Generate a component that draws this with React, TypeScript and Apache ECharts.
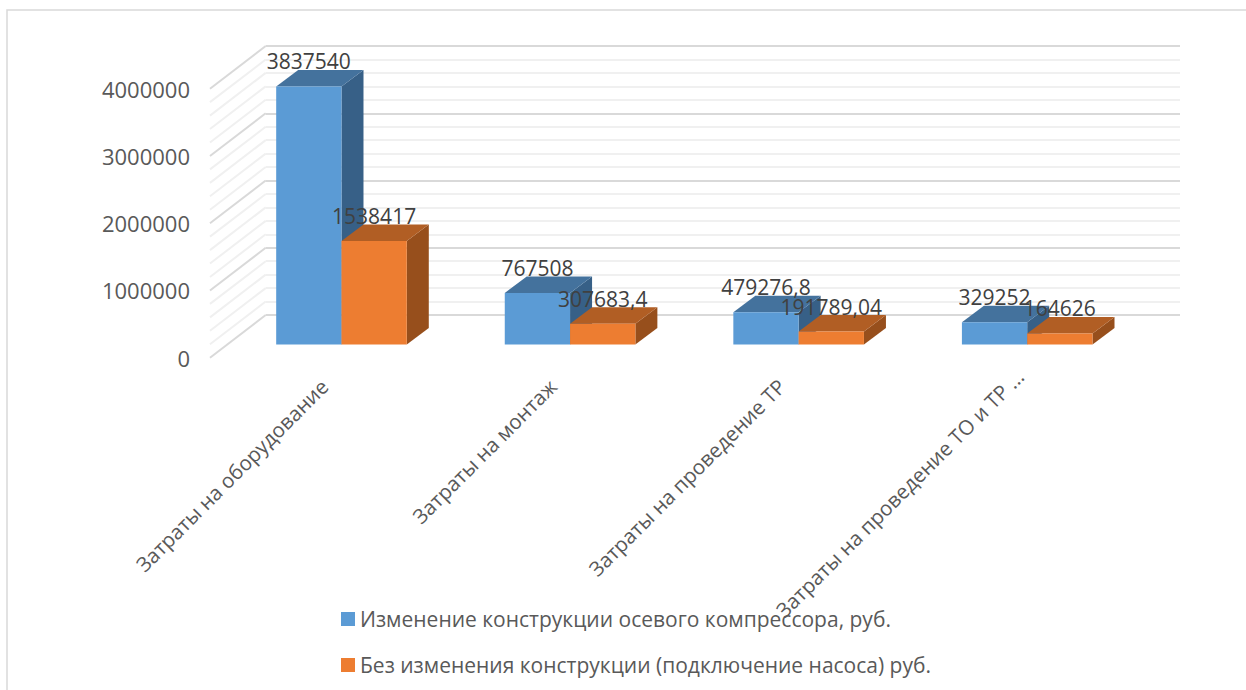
import React, { useEffect, useRef } from "react";
import * as echarts from "echarts";

const categories = [
  "Затраты на оборудование",
  "Затраты на монтаж",
  "Затраты на проведение ТР",
  "Затраты на проведение ТО и ТР ...",
];
const seriesNames = [
  "Изменение конструкции осевого компрессора, руб.",
  "Без изменения конструкции (подключение насоса) руб.",
];
const redesignCosts = [3837540, 767508, 479276.8, 329252];
const pumpCosts = [1538417, 307683.4, 191789.04, 164626];
const gridValues = [
  0, 200000, 400000, 600000, 800000, 1000000, 1200000, 1400000, 1600000, 1800000, 2000000,
  2200000, 2400000, 2600000, 2800000, 3000000, 3200000, 3400000, 3600000, 3800000, 4000000,
];

const FONT = "'Open Sans'";
const MAJOR = "#d9d9d9";
const MINOR = "#f0f0f0";

// Pseudo-3D projection: the depth vector of the side wall and of the bars.
const WALL_DX = 55.7;
const WALL_DY = -42.7;
const BAR_SHIFT_X = 17.2;
const BAR_SHIFT_Y = -13.2;
const BAR_DEPTH_X = 22;
const BAR_DEPTH_Y = -16.5;
const BAR_WIDTH = 65.3;

const PLOT = { left: 210, top: 88.7, width: 914.3, height: 269 };

const formatValue = (v: number) => String(v).replace(".", ",");

function barRenderer(side: -1 | 1, front: string, top: string, right: string) {
  return (_params: any, api: any) => {
    const [cx, y1] = api.coord([api.value(0), api.value(1)]);
    const [, y0] = api.coord([api.value(0), 0]);
    const mid = cx + BAR_SHIFT_X;
    const xa = side < 0 ? mid - BAR_WIDTH : mid;
    const xb = xa + BAR_WIDTH;
    const yb = y0 + BAR_SHIFT_Y;
    const yt = y1 + BAR_SHIFT_Y;
    const dx = BAR_DEPTH_X;
    const dy = BAR_DEPTH_Y;
    return {
      type: "group",
      children: [
        {
          type: "polygon",
          shape: { points: [[xb, yb], [xb + dx, yb + dy], [xb + dx, yt + dy], [xb, yt]] },
          style: { fill: right },
        },
        {
          type: "polygon",
          shape: { points: [[xa, yt], [xa + dx, yt + dy], [xb + dx, yt + dy], [xb, yt]] },
          style: { fill: top },
        },
        {
          type: "polygon",
          shape: { points: [[xa, yb], [xb, yb], [xb, yt], [xa, yt]] },
          style: { fill: front },
        },
        {
          type: "text",
          z2: 50,
          style: {
            text: formatValue(api.value(1)),
            x: (xa + xb) / 2,
            y: yt - 25,
            align: "center",
            verticalAlign: "middle",
            fontFamily: FONT,
            fontSize: 21,
            fill: "#404040",
          },
        },
      ],
    };
  };
}

// Receding gridlines of the left wall, one per grid value.
function sideWallRenderer(params: any, api: any) {
  const v = api.value(0);
  const x0 = params.coordSys.x;
  const y = api.coord([0, v])[1];
  return {
    type: "line",
    shape: { x1: x0, y1: y, x2: x0 + WALL_DX, y2: y + WALL_DY },
    style: { stroke: v % 1000000 === 0 ? MAJOR : MINOR, lineWidth: 2 },
  };
}

export default function App() {
  const ref = useRef<HTMLDivElement>(null);

  useEffect(() => {
    if (!ref.current) return;
    const chart = echarts.init(ref.current, undefined, { renderer: "svg" });
    chart.setOption({
      animation: false,
      backgroundColor: "#ffffff",
      color: ["#5B9BD5", "#ED7D31"],
      grid: [
        { ...PLOT },
        // Back wall of the plot, shifted along the depth vector.
        {
          left: PLOT.left + WALL_DX,
          top: PLOT.top + WALL_DY,
          width: PLOT.width,
          height: PLOT.height,
        },
      ],
      xAxis: [
        {
          type: "category",
          gridIndex: 0,
          data: categories,
          axisLine: { show: false },
          axisTick: { show: false },
          axisLabel: {
            interval: 0,
            rotate: 45,
            margin: 25,
            fontFamily: FONT,
            fontSize: 20.5,
            color: "#595959",
            // The longest label reaches a little past the anchor of the others.
            formatter: (v: string, i: number) =>
              i === categories.length - 1 ? `{long|${v}}` : v,
            rich: {
              long: {
                fontFamily: FONT,
                fontSize: 20.5,
                color: "#595959",
                padding: [0, -14, 0, 0],
              },
            },
          },
        },
        { type: "value", gridIndex: 1, min: 0, max: 1, show: false, splitLine: { show: false } },
      ],
      yAxis: [
        {
          type: "value",
          gridIndex: 0,
          min: 0,
          max: 4000000,
          interval: 1000000,
          splitLine: { show: false },
          axisLine: { show: false },
          axisTick: { show: false },
          axisLabel: {
            margin: 20,
            fontFamily: FONT,
            fontSize: 22,
            color: "#595959",
            formatter: (v: number) => String(v),
          },
        },
        {
          type: "value",
          gridIndex: 1,
          min: 0,
          max: 4000000,
          interval: 1000000,
          axisLine: { show: false },
          axisTick: { show: false },
          axisLabel: { show: false },
          splitLine: { show: true, lineStyle: { color: MAJOR, width: 2 } },
          minorTick: { show: false, splitNumber: 5 },
          minorSplitLine: { show: true, lineStyle: { color: MINOR, width: 2 } },
        },
      ],
      legend: {
        orient: "vertical",
        left: 336,
        top: 602,
        itemWidth: 14,
        itemHeight: 14,
        itemGap: 22,
        data: seriesNames,
        icon: "rect",
        textStyle: { fontFamily: FONT, fontSize: 21, color: "#595959", lineHeight: 24 },
      },
      series: [
        {
          type: "custom",
          name: "wall",
          xAxisIndex: 0,
          yAxisIndex: 0,
          z: 1,
          silent: true,
          clip: false,
          data: gridValues.map((v) => [v]),
          encode: { y: 0 },
          renderItem: sideWallRenderer,
        },
        {
          type: "custom",
          name: seriesNames[0],
          xAxisIndex: 0,
          yAxisIndex: 0,
          z: 3,
          clip: false,
          itemStyle: { color: "#5B9BD5" },
          data: redesignCosts.map((v, i) => [i, v]),
          encode: { x: 0, y: 1 },
          renderItem: barRenderer(-1, "#5B9BD5", "#44729D", "#376087"),
        },
        {
          type: "custom",
          name: seriesNames[1],
          xAxisIndex: 0,
          yAxisIndex: 0,
          z: 4,
          clip: false,
          itemStyle: { color: "#ED7D31" },
          data: pumpCosts.map((v, i) => [i, v]),
          encode: { x: 0, y: 1 },
          renderItem: barRenderer(1, "#ED7D31", "#B15E24", "#974F1C"),
        },
      ],
      graphic: [
        {
          type: "polyline",
          silent: true,
          shape: { points: [[7, 690], [7, 10], [1246, 10]] },
          style: { stroke: "#d9d9d9", lineWidth: 1.5, fill: "none" },
        },
      ],
    });
    return () => chart.dispose();
  }, []);

  return <div ref={ref} style={{ position: "fixed", left: 0, top: 0, width: 1246, height: 690 }} />;
}
